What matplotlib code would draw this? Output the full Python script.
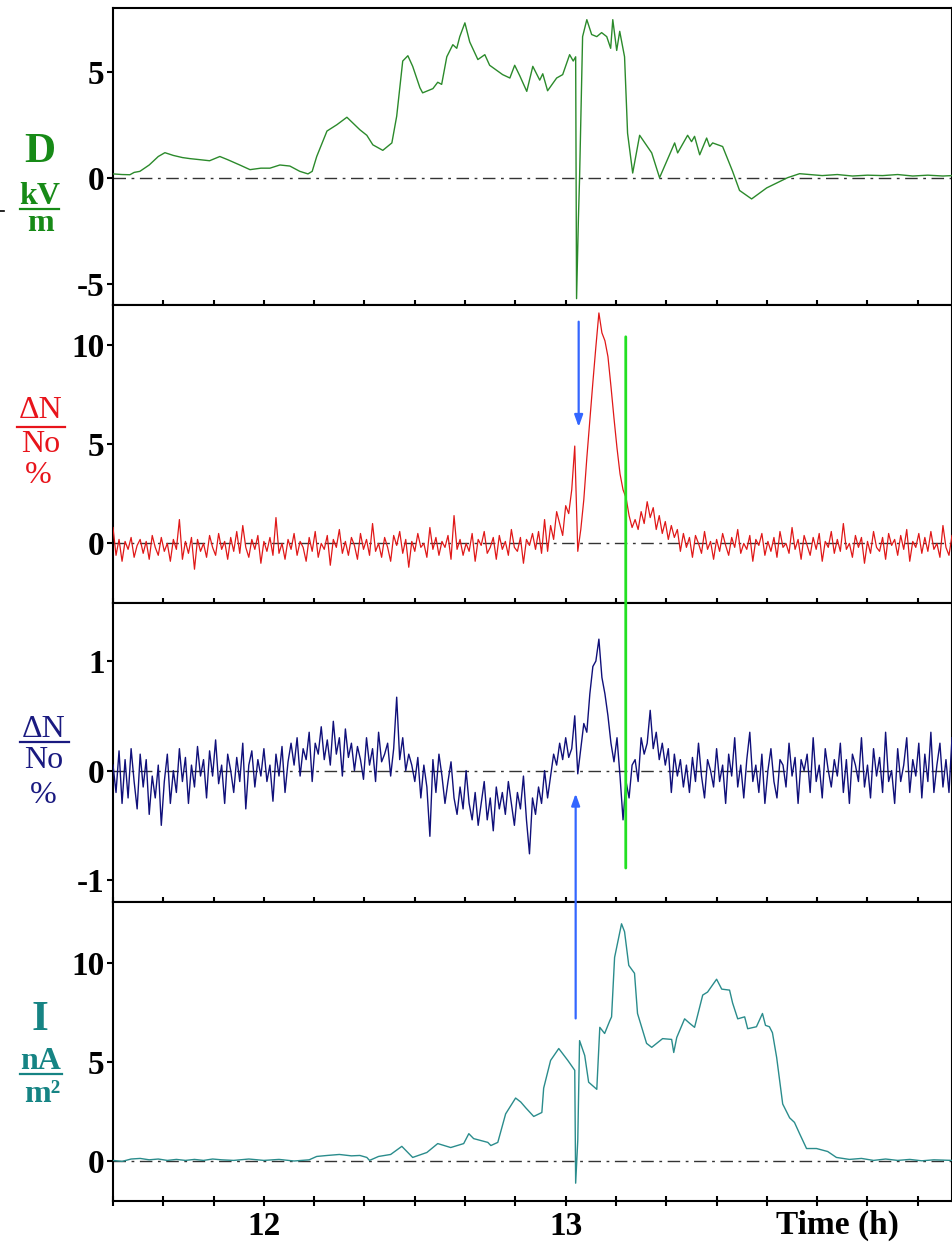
import numpy as np
import matplotlib
matplotlib.use("Agg")
import matplotlib.pyplot as plt
from matplotlib.patches import ConnectionPatch
from matplotlib.lines import Line2D
from matplotlib.ticker import MultipleLocator, FixedLocator

# ---------------- data ----------------
# Panel 1: electric field D (kV/m)
d_time = [11.500, 11.530, 11.556, 11.570, 11.589, 11.620, 11.650, 11.672, 11.700, 11.730,
          11.755, 11.788, 11.820, 11.854, 11.880, 11.920, 11.954, 11.990, 12.020, 12.053,
          12.086, 12.119, 12.146, 12.160, 12.175, 12.209, 12.242, 12.275, 12.318, 12.341,
          12.361, 12.394, 12.424, 12.440, 12.460, 12.477, 12.493, 12.517, 12.526, 12.560,
          12.576, 12.589, 12.606, 12.626, 12.639, 12.649, 12.666, 12.682, 12.709, 12.732,
          12.748, 12.791, 12.815, 12.831, 12.848, 12.871, 12.891, 12.914, 12.924, 12.940,
          12.970, 12.990, 13.013, 13.025, 13.033, 13.036, 13.042, 13.046, 13.056, 13.070,
          13.086, 13.103, 13.119, 13.136, 13.149, 13.156, 13.169, 13.179, 13.195, 13.202,
          13.205, 13.222, 13.245, 13.285, 13.311, 13.361, 13.371, 13.404, 13.417, 13.427,
          13.444, 13.467, 13.477, 13.487, 13.520, 13.553, 13.576, 13.616, 13.666, 13.735,
          13.775, 13.808, 13.850, 13.900, 13.950, 14.000, 14.050, 14.100, 14.150, 14.200,
          14.250, 14.280]
d_vals = [0.18, 0.15, 0.14, 0.25, 0.30, 0.60, 1.00, 1.18, 1.05, 0.95,
          0.90, 0.85, 0.80, 1.00, 0.85, 0.60, 0.38, 0.45, 0.45, 0.60,
          0.55, 0.30, 0.18, 0.30, 1.00, 2.20, 2.50, 2.85, 2.26, 2.00,
          1.55, 1.29, 1.64, 2.90, 5.50, 5.75, 5.25, 4.24, 4.00, 4.20,
          4.50, 4.40, 5.70, 6.27, 6.10, 6.65, 7.30, 6.40, 5.57, 5.80,
          5.30, 4.86, 4.70, 5.30, 4.80, 4.07, 5.25, 4.60, 4.90, 4.10,
          4.70, 4.86, 5.80, 5.50, 5.70, -5.70, -2.00, 0.00, 6.65, 7.45,
          6.75, 6.65, 6.84, 6.65, 6.10, 7.45, 6.00, 6.90, 5.70, 3.20,
          2.10, 0.22, 2.00, 1.17, 0.00, 1.64, 1.17, 2.00, 1.70, 1.95,
          1.08, 1.87, 1.47, 1.64, 1.47, 0.30, -0.60, -1.00, -0.48, 0.00,
          0.19, 0.15, 0.10, 0.15, 0.08, 0.12, 0.10, 0.15, 0.08, 0.12,
          0.08, 0.10]

# Panel 2: relative change of ion density (red), sampled every 0.01 h from 11.50 h
red_start, red_step = 11.50, 0.01
red_vals = [
    0.8, -0.6, 0.2, -0.9, 0.1, -0.3, 0.3, -0.7, -0.1, 0.2,
    -0.5, 0.1, -0.8, 0.4, -0.2, -0.6, 0.3, -0.4, 0.0, -0.9,
    0.2, -0.3, 1.2, -0.8, 0.1, -0.5, 0.3, -1.3, 0.2, -0.4,
    0.0, -0.7, 0.4, -0.2, -0.6, 0.5, -0.3, 0.1, -0.8, 0.3,
    -0.4, 0.6, -0.5, 0.9, -0.2, -0.7, 0.2, -0.3, 0.4, -1.0,
    0.1, -0.4, 0.3, -0.6, 1.3, -0.5, 0.0, -0.8, 0.2, -0.3,
    0.5, -0.6, 0.1, -0.2, -0.9, 0.3, -0.4, 0.6, -0.7, 0.0,
    -0.3, 0.4, -1.1, 0.2, -0.2, 0.7, -0.5, 0.1, -0.6, 0.3,
    -0.1, -0.8, 0.5, -0.3, 0.2, -0.6, 1.0, -0.4, 0.0, -0.7,
    0.3, -0.2, -0.9, 0.4, -0.1, 0.6, -0.5, 0.2, -1.2, 0.1,
    -0.4, 0.5, -0.2, 0.0, -0.7, 0.8, -0.3, 0.3, -0.6, 0.1,
    -0.2, 0.4, -0.8, 1.4, -0.3, 0.2, -0.6, 0.0, -0.4, 0.5,
    -0.9, 0.2, -0.1, 0.6, -0.5, -0.2, 0.3, -0.8, 0.4, -0.3,
    0.1, -0.6, 0.7, -0.2, -0.4, 0.3, -1.0, 0.2, -0.1, 0.5,
    -0.3, 0.6, -0.5, 1.2, -0.4, 0.9, 0.2, 1.6, 1.0, 0.4,
    1.9, 1.5, 2.7, 4.9, -0.4, 0.7, 2.2, 4.3, 6.2, 8.1,
    9.9, 11.6, 10.6, 10.2, 9.4, 7.9, 6.3, 4.8, 3.5, 2.7,
    2.3, 1.4, 0.8, 1.2, 0.7, 1.6, 1.0, 2.1, 1.3, 1.8,
    0.7, 1.4, 0.5, 1.1, 0.2, 0.9, 0.3, 0.7, -0.4, 0.5,
    -0.2, 0.3, -0.7, 0.4, 0.0, -0.5, 0.6, -0.3, 0.1, -0.8,
    0.2, -0.4, 0.5, -0.1, -0.6, 0.3, -0.2, 0.7, -0.5, 0.0,
    -0.3, 0.4, -0.9, 0.2, -0.1, 0.5, -0.6, 0.1, -0.4, 0.3,
    -0.7, 0.6, -0.2, 0.0, -0.5, 0.8, -0.3, 0.2, -0.8, 0.4,
    -0.1, -0.6, 0.3, -0.3, 0.5, -0.9, 0.1, -0.2, 0.6, -0.5,
    0.2, -0.4, 1.0, -0.3, 0.0, -0.7, 0.4, -0.2, 0.3, -1.0,
    0.1, -0.5, 0.6, -0.2, -0.4, 0.3, -0.8, 0.5, -0.1, 0.2,
    -0.6, 0.4, -0.3, 0.7, -0.9, 0.1, -0.2, 0.5, -0.5, 0.3,
    -0.4, 0.6, -0.3, 0.0, -0.7, 0.9, -0.2, -0.6, 0.4]

# Panel 3: relative change of ion density (navy), sampled every 0.01 h from 11.50 h
navy_start, navy_step = 11.50, 0.01
navy_vals = [
    0.05, -0.2, 0.18, -0.3, 0.1, -0.25, 0.2, -0.1, -0.35, 0.15,
    -0.15, 0.1, -0.4, -0.05, -0.25, 0.05, -0.5, -0.1, 0.15, -0.3,
    0.0, -0.2, 0.2, -0.1, 0.12, -0.3, 0.05, -0.15, 0.22, -0.05,
    0.1, -0.25, 0.18, -0.05, 0.28, -0.12, 0.05, -0.3, 0.15, 0.0,
    -0.2, 0.12, -0.1, 0.25, -0.35, 0.05, 0.18, -0.15, 0.1, -0.05,
    0.2, -0.1, 0.05, -0.28, 0.15, -0.05, 0.22, -0.2, 0.08, 0.25,
    0.05, 0.3, -0.05, 0.2, 0.1, 0.35, -0.1, 0.25, 0.15, 0.4,
    0.1, 0.28, 0.05, 0.45, 0.15, 0.3, -0.05, 0.38, 0.12, 0.25,
    0.0, 0.22, 0.1, -0.08, 0.3, 0.05, 0.2, -0.1, 0.35, 0.08,
    0.15, 0.25, -0.05, 0.2, 0.67, 0.1, 0.3, 0.0, 0.15, 0.05,
    -0.1, 0.12, -0.25, 0.05, -0.15, -0.6, 0.1, -0.2, 0.15, -0.05,
    -0.3, -0.1, 0.08, -0.25, -0.4, -0.15, -0.35, 0.0, -0.3, -0.45,
    -0.2, -0.5, -0.3, -0.1, -0.45, -0.25, -0.55, -0.15, -0.35, -0.2,
    -0.4, -0.1, -0.3, -0.5, -0.2, -0.35, -0.05, -0.45, -0.76, -0.25,
    -0.4, -0.15, -0.3, 0.0, -0.25, -0.05, 0.15, 0.05, 0.25, 0.1,
    0.3, 0.12, 0.2, 0.5, -0.03, 0.2, 0.43, 0.35, 0.7, 0.95,
    1.0, 1.2, 0.85, 0.7, 0.5, 0.25, 0.08, 0.3, -0.05, -0.45,
    -0.1, -0.25, 0.05, 0.1, -0.1, 0.3, 0.15, 0.25, 0.55, 0.2,
    0.35, 0.1, 0.25, 0.05, 0.2, -0.2, 0.15, -0.05, 0.1, -0.15,
    0.05, -0.2, 0.12, -0.1, 0.25, -0.05, -0.25, 0.1, 0.0, -0.15,
    0.2, -0.1, 0.05, -0.3, 0.15, -0.05, 0.3, -0.15, 0.05, -0.25,
    0.1, 0.35, -0.1, 0.05, -0.2, 0.15, -0.3, 0.0, 0.2, -0.1,
    -0.25, 0.1, 0.05, -0.15, 0.25, -0.05, 0.12, -0.3, 0.1, 0.0,
    0.15, -0.2, 0.3, -0.1, 0.05, -0.25, 0.2, 0.0, -0.15, 0.1,
    -0.05, 0.25, -0.2, 0.1, -0.3, 0.15, 0.05, -0.1, 0.3, -0.15,
    0.05, -0.25, 0.2, -0.05, 0.12, -0.2, 0.35, -0.1, 0.0, -0.3,
    0.2, -0.1, 0.05, 0.3, -0.2, 0.1, -0.05, 0.25, -0.25, 0.15,
    -0.1, 0.35, -0.2, 0.05, 0.25, -0.15, 0.1, -0.2, 0.3]

# Panel 4: current density I (nA/m^2)
i_time = [11.500, 11.530, 11.560, 11.590, 11.620, 11.650, 11.680, 11.710, 11.740, 11.770,
          11.800, 11.830, 11.860, 11.900, 11.950, 12.000, 12.050, 12.100, 12.150, 12.175,
          12.210, 12.250, 12.290, 12.318, 12.341, 12.350, 12.380, 12.420, 12.457, 12.493,
          12.540, 12.576, 12.619, 12.662, 12.679, 12.695, 12.742, 12.752, 12.775, 12.801,
          12.834, 12.851, 12.868, 12.894, 12.921, 12.927, 12.950, 12.977, 13.007, 13.030,
          13.033, 13.040, 13.046, 13.063, 13.076, 13.103, 13.113, 13.129, 13.146, 13.152,
          13.162, 13.185, 13.195, 13.209, 13.228, 13.238, 13.268, 13.285, 13.321, 13.351,
          13.358, 13.368, 13.394, 13.411, 13.427, 13.454, 13.470, 13.500, 13.517, 13.543,
          13.553, 13.570, 13.593, 13.603, 13.632, 13.652, 13.662, 13.675, 13.685, 13.699,
          13.719, 13.742, 13.758, 13.775, 13.798, 13.831, 13.868, 13.897, 13.940, 13.980,
          14.020, 14.060, 14.100, 14.140, 14.180, 14.220, 14.280]
i_vals = [0.05, 0.00, 0.12, 0.15, 0.08, 0.12, 0.05, 0.10, 0.05, 0.10,
          0.05, 0.12, 0.08, 0.05, 0.12, 0.05, 0.10, 0.02, 0.08, 0.25,
          0.30, 0.35, 0.28, 0.30, 0.20, 0.05, 0.25, 0.35, 0.76, 0.20,
          0.45, 0.90, 0.70, 0.90, 1.40, 1.15, 0.96, 0.80, 0.96, 2.40,
          3.20, 3.00, 2.70, 2.27, 2.47, 3.70, 5.10, 5.70, 5.10, 4.60,
          -1.10, 1.06, 6.10, 5.35, 4.00, 3.64, 6.77, 6.46, 7.10, 7.30,
          10.30, 12.00, 11.60, 9.90, 9.50, 7.47, 5.96, 5.76, 6.20, 6.16,
          5.50, 6.26, 7.20, 6.97, 6.77, 8.40, 8.55, 9.20, 8.70, 8.65,
          8.00, 7.20, 7.30, 6.70, 6.80, 7.47, 6.87, 6.80, 6.50, 5.25,
          2.90, 2.20, 1.97, 1.40, 0.65, 0.65, 0.50, 0.20, 0.10, 0.15,
          0.05, 0.12, 0.05, 0.10, 0.03, 0.08, 0.05]

x_major = [12, 13, 14]
x_major_labels = ["12", "13", ""]
yticks = [[-5, 0, 5], [0, 5, 10], [-1, 0, 1], [0, 5, 10]]
ytick_labels = [["-5", "0", "5"], ["0", "5", "10"], ["-1", "0", "1"], ["0", "5", "10"]]
ylims = [(-6, 8), (-3, 12), (-1.2, 1.53), (-2, 13.1)]
xlim = (11.5, 14.28)

# ---------------- layout ----------------
W, H = 953, 1242
fig = plt.figure(figsize=(W / 100, H / 100), dpi=100)
SERIF = "Liberation Serif"


def fx(px):
    return px / W


def fy(py):
    return 1 - py / H


panel_px = [(8, 305), (305, 603), (603, 902), (902, 1201)]
axes = []
for (top, bot), yl, yt, ytl in zip(panel_px, ylims, yticks, ytick_labels):
    ax = fig.add_axes([fx(113), fy(bot), fx(952) - fx(113), (bot - top) / H])
    ax.set_xlim(*xlim)
    ax.set_ylim(*yl)
    for s in ax.spines.values():
        s.set_linewidth(1.5)
        s.set_color("black")
    ax.xaxis.set_major_locator(FixedLocator(x_major))
    ax.xaxis.set_minor_locator(MultipleLocator(1 / 6))
    ax.tick_params(axis="x", which="both", direction="inout", length=7, width=1.5,
                   top=False, bottom=True)
    ax.set_xticklabels([])
    ax.set_yticks(yt)
    ax.set_yticklabels(ytl, fontfamily=SERIF, fontweight="bold", fontsize=24)
    ax.tick_params(axis="y", direction="out", length=4, width=1.5, pad=2)
    ax.axhline(0, color="#333333", lw=1.0, ls=(0, (9, 4, 2, 4)), zorder=1)
    axes.append(ax)

ax1, ax2, ax3, ax4 = axes
ax4.set_xticklabels(x_major_labels, fontfamily=SERIF, fontweight="bold", fontsize=24)
ax4.tick_params(axis="x", which="major", pad=4)

# ---------------- series ----------------
ax1.plot(d_time, d_vals, color="#2b8a2b", lw=1.0, zorder=3)

red_t = red_start + red_step * np.arange(len(red_vals))
ax2.plot(red_t, red_vals, color="#e01818", lw=0.9, zorder=3)

navy_t = navy_start + navy_step * np.arange(len(navy_vals))
ax3.plot(navy_t, navy_vals, color="#10107a", lw=1.0, zorder=3)

ax4.plot(i_time, i_vals, color="#2a8c8c", lw=1.0, zorder=3)

# ---------------- annotations ----------------
# blue arrow in panel 2
ax2.annotate("", xy=(13.043, 5.86), xytext=(13.043, 11.16),
             arrowprops=dict(arrowstyle="-|>,head_length=0.7,head_width=0.25",
                             color="#3366ff", lw=1.6, shrinkA=0, shrinkB=0))
# blue arrow from panel 4 up to panel 3
arr = ConnectionPatch(xyA=(13.033, 7.22), coordsA=ax4.transData,
                      xyB=(13.033, -0.21), coordsB=ax3.transData,
                      arrowstyle="-|>,head_length=0.7,head_width=0.25",
                      color="#3366ff", lw=1.6, shrinkA=0, shrinkB=0, zorder=5)
fig.add_artist(arr)
# green vertical line across panels 2 and 3
gl = ConnectionPatch(xyA=(13.199, 10.4), coordsA=ax2.transData,
                     xyB=(13.199, -0.89), coordsB=ax3.transData,
                     arrowstyle="-", color="#22e022", lw=2.0, zorder=5)
fig.add_artist(gl)

# x-axis title
fig.text(fx(837), fy(1234), "Time (h)", ha="center", va="baseline",
         fontfamily=SERIF, fontweight="bold", fontsize=24)

# ---------------- y labels ----------------
def ftxt(x, y, s, color, size, weight="bold"):
    fig.text(fx(x), fy(y), s, ha="center", va="baseline", color=color,
             fontfamily=SERIF, fontweight=weight, fontsize=size)


def fbar(x0, x1, y, color):
    fig.add_artist(Line2D([fx(x0), fx(x1)], [fy(y), fy(y)], color=color, lw=1.6,
                          transform=fig.transFigure))


green = "#178a17"
ftxt(40, 162, "D", green, 31)
ftxt(40, 204, "kV", green, 23)
fbar(20, 59, 209, green)
ftxt(40, 231, "m", green, 23)
fig.add_artist(Line2D([fx(0), fx(4)], [fy(211), fy(211)], color="black", lw=1.2,
                      transform=fig.transFigure))

red = "#e8141b"
ftxt(41, 418, "ΔN", red, 23, "normal")
fbar(17, 65, 427, red)
ftxt(41, 452, "No", red, 23, "normal")
ftxt(38, 483, "%", red, 23, "normal")

navy = "#1a1a80"
ftxt(44, 737, "ΔN", navy, 23, "normal")
fbar(20, 69, 742, navy)
ftxt(44, 768, "No", navy, 23, "normal")
ftxt(43, 803, "%", navy, 23, "normal")

teal = "#168484"
ftxt(40, 1030, "I", teal, 31)
ftxt(41, 1069, "nA", teal, 23)
fbar(20, 62, 1074, teal)
ftxt(42, 1102, "m²", teal, 23)

fig.savefig("out.png", dpi=100)
